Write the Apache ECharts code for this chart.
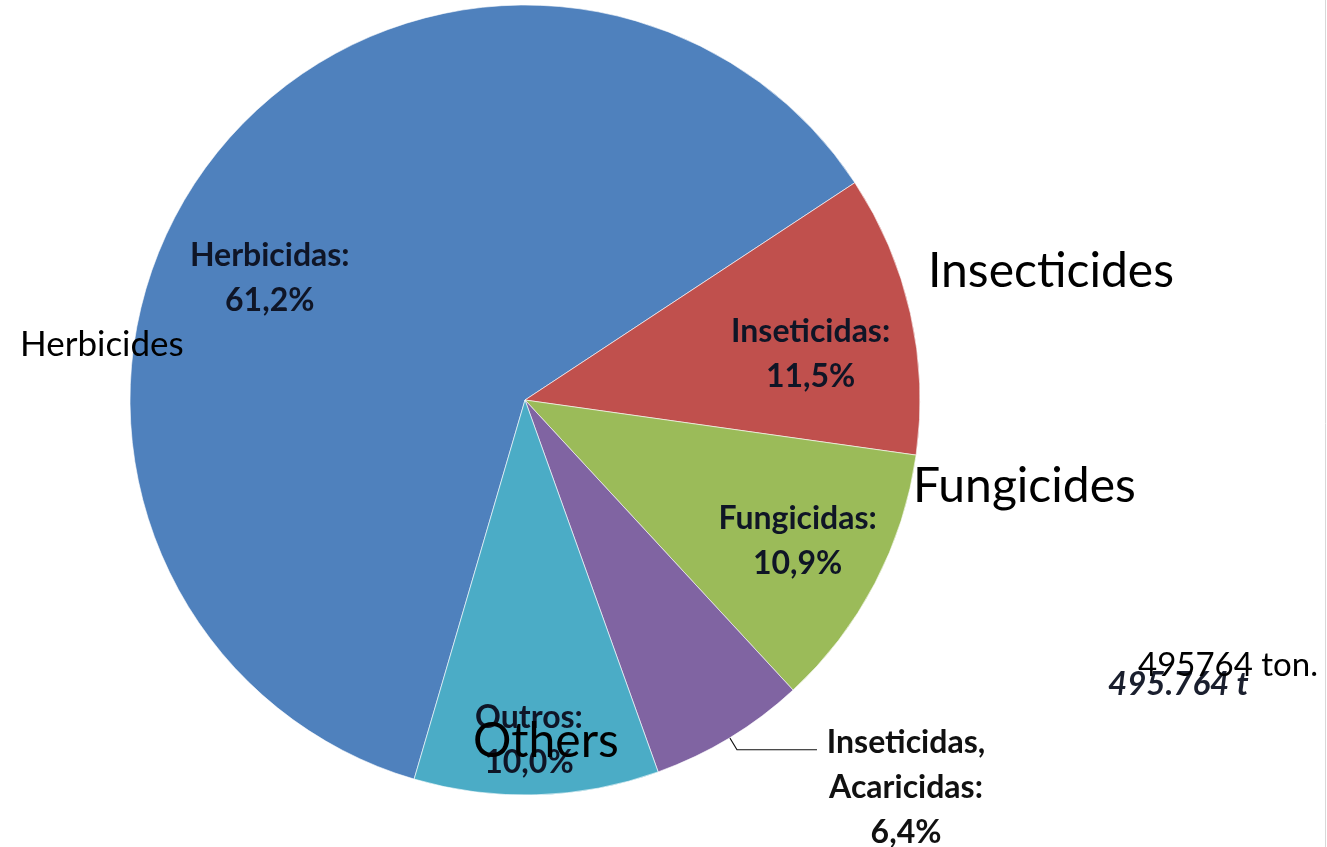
<!DOCTYPE html>
<html>
<head>
<meta charset="utf-8">
<script src="https://cdn.jsdelivr.net/npm/echarts@6/dist/echarts.min.js"></script>
<style>
html,body{margin:0;padding:0;background:#fff;}
#chart{width:1327px;height:847px;}
</style>
</head>
<body>
<div id="chart"></div>
<script>
const categories = ['Herbicidas', 'Inseticidas', 'Fungicidas', 'Inseticidas,\nAcaricidas', 'Outros'];
const percentValues = [61.2, 11.5, 10.9, 6.4, 10.0];
const sliceColors = ['#4F81BD', '#C0504D', '#9BBB59', '#8064A2', '#4BACC6'];
const englishLabels = ['Herbicides', 'Insecticides', 'Fungicides', 'Others'];
const totalLabel = '495764 ton.';
const totalOriginal = '495.764 t';

const labelShift = [[-94, -3], [90, -2], [95, 48], [84, 38], [-2, 140]];

const chart = echarts.init(document.getElementById('chart'));
const fmt = v => v.toFixed(1).replace('.', ',') + '%';

const data = categories.map((c, i) => {
  const item = { name: c, value: percentValues[i], itemStyle: { color: sliceColors[i] } };
  if (i === 3) {
    item.label = { position: 'outside', color: '#111111' };
    item.labelLine = { show: true, length: 14, length2: 80, lineStyle: { color: '#111', width: 1.2 } };
  }
  return item;
});

const txt = (text, x, y, font, fill) => ({
  type: 'text', z: 100, x: x, y: y,
  style: { text: text, font: font, fill: fill || '#000', verticalAlign: 'middle', align: 'left' }
});

chart.setOption({
  animation: false,
  series: [{
    type: 'pie',
    center: [525, 400],
    radius: 395,
    startAngle: 253.7,
    clockwise: true,
    data: data,
    itemStyle: { borderColor: 'rgba(255,255,255,0.6)', borderWidth: 1 },
    label: {
      show: true,
      position: 'inside',
      fontFamily: 'Lato',
      fontWeight: 'bold',
      fontSize: 32,
      lineHeight: 45,
      align: 'center',
      color: '#0f1526',
      formatter: p => p.name + ':\n' + fmt(p.value)
    },
    labelLine: { show: false },
    labelLayout: p => {
      const s = labelShift[p.dataIndex];
      if (p.dataIndex === 3) {
        return { dx: s[0], dy: s[1], align: 'center' };
      }
      return { dx: s[0], dy: s[1] };
    }
  }],
  graphic: [
    txt(englishLabels[0], 20, 345, '35px Lato'),
    txt(englishLabels[1], 928, 272, '48px Lato'),
    txt(englishLabels[2], 913, 487, '48px Lato'),
    txt(englishLabels[3], 473, 742, '48px Lato'),
    txt(totalOriginal, 1108, 684, 'italic bold 33px Lato', '#1a1f2e'),
    txt(totalLabel, 1138, 665, '33px Lato'),
    { type: 'line', z: 100, shape: { x1: 1325.5, y1: 0, x2: 1325.5, y2: 847 }, style: { stroke: '#d8d8d8', lineWidth: 1 } }
  ]
});
</script>
</body>
</html>
